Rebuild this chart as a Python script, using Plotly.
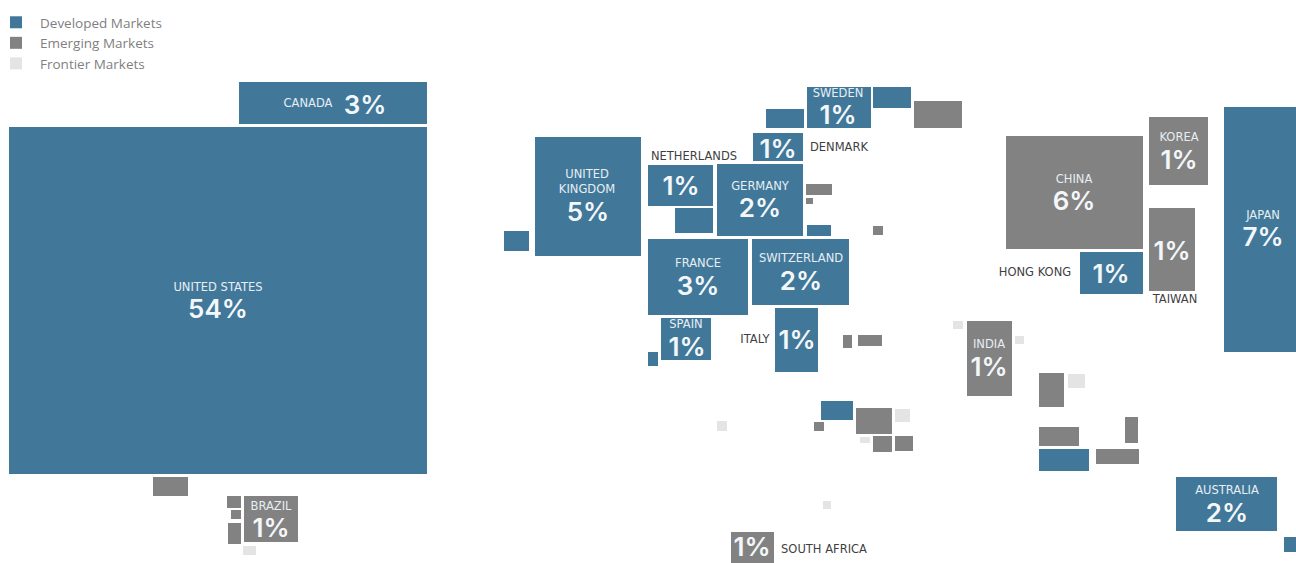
import plotly.graph_objects as go

# Market tiles, in cartogram units (one unit per pixel, y running downward)
developed_left = [9, 239, 535, 504, 648, 675, 717, 753, 766, 807, 873, 807, 648, 752, 661, 648, 775, 821, 1080, 1224, 1039, 1176, 1284]
developed_right = [427, 427, 641, 529, 713, 713, 803, 803, 804, 871, 911, 831, 748, 849, 711, 658, 818, 853, 1143, 1296, 1089, 1277, 1296]
developed_top = [127, 82, 137, 231, 165, 208, 164, 133, 109, 87, 87, 225, 239, 239, 318, 352, 308, 401, 252, 107, 449, 477, 537]
developed_bottom = [474, 124, 256, 251, 206, 233, 236, 161, 128, 128, 108, 236, 315, 305, 360, 366, 372, 420, 294, 352, 471, 531, 552]

emerging_left = [244, 153, 227, 231, 228, 914, 806, 806, 873, 843, 858, 856, 814, 873, 895, 731, 1006, 1149, 1149, 967, 1039, 1039, 1096, 1125]
emerging_right = [298, 188, 241, 241, 241, 962, 832, 813, 883, 852, 882, 892, 824, 892, 913, 774, 1143, 1208, 1195, 1012, 1064, 1079, 1139, 1138]
emerging_top = [496, 477, 496, 510, 523, 101, 184, 198, 226, 335, 335, 408, 422, 436, 436, 532, 136, 117, 208, 321, 373, 427, 449, 417]
emerging_bottom = [542, 496, 508, 519, 544, 128, 195, 204, 235, 348, 346, 434, 431, 452, 451, 563, 249, 185, 291, 396, 407, 446, 464, 443]

frontier_left = [243, 895, 717, 860, 823, 953, 1015, 1068]
frontier_right = [256, 910, 727, 870, 831, 963, 1024, 1085]
frontier_top = [546, 409, 421, 437, 501, 321, 336, 374]
frontier_bottom = [555, 422, 431, 443, 509, 329, 344, 388]

# Country names set inside a tile, then those set beside one
inner_names = ["UNITED STATES", "CANADA", "BRAZIL", "UNITED<br>KINGDOM", "GERMANY", "SWEDEN", "FRANCE", "SWITZERLAND",
               "SPAIN", "CHINA", "KOREA", "JAPAN", "INDIA", "AUSTRALIA"]
inner_name_x = [218, 308, 271, 587, 760, 838, 698, 801, 686, 1074, 1179, 1263, 989, 1227]
inner_name_y = [288, 104, 507, 183, 187, 94, 264, 259, 325, 180, 138, 216, 345, 491]

outer_names = ["NETHERLANDS", "DENMARK", "ITALY", "TAIWAN", "HONG KONG", "SOUTH AFRICA"]
outer_name_x = [694, 839, 755, 1175, 1035, 824]
outer_name_y = [157, 148, 340, 300, 273, 550]

share_labels = ["54%", "3%", "1%", "5%", "1%", "2%", "1%", "1%", "3%", "2%", "1%", "1%", "6%", "1%", "7%", "1%", "1%", "1%", "2%", "1%"]
share_x = [218, 365, 271, 588, 681, 760, 778, 838, 698, 801, 687, 797, 1074, 1179, 1263, 1172, 1111, 989, 1227, 752]
share_y = [311, 107, 530, 214, 188, 210, 151, 117, 288, 283, 349, 342, 203, 162, 239, 253, 276, 369, 515, 549]

BLUE = "#41789a"
GREY = "#828282"
PALE = "#e4e4e4"


def tier(name, left, right, top, bottom, color):
    """One market tier, drawn as free-floating bars."""
    return go.Bar(
        name=name,
        x=[(a + b) / 2 for a, b in zip(left, right)],
        width=[b - a for a, b in zip(left, right)],
        base=top,
        y=[b - t for t, b in zip(top, bottom)],
        marker=dict(color=color, line=dict(width=0)),
        hoverinfo="skip",
    )


def labels(text, x, y, family, size, color, weight):
    return go.Scatter(
        x=x, y=y, text=text, mode="text", textposition="middle center",
        textfont=dict(family=family, size=size, color=color, weight=weight),
        showlegend=False, hoverinfo="skip",
    )


fig = go.Figure([
    tier("Developed Markets", developed_left, developed_right, developed_top, developed_bottom, BLUE),
    tier("Emerging Markets", emerging_left, emerging_right, emerging_top, emerging_bottom, GREY),
    tier("Frontier Markets", frontier_left, frontier_right, frontier_top, frontier_bottom, PALE),
    labels(inner_names, inner_name_x, inner_name_y, "DejaVu Sans", 11.5, "#e6eef3", 400),
    labels(outer_names, outer_name_x, outer_name_y, "DejaVu Sans", 11.5, "#3f3f3f", 400),
    labels(share_labels, share_x, share_y, "Inter", 26, "#f4f7f9", 600),
])

fig.update_layout(
    width=1296, height=563,
    margin=dict(l=0, r=0, t=0, b=0, autoexpand=False),
    barmode="overlay",
    paper_bgcolor="white", plot_bgcolor="white",
    xaxis=dict(range=[0, 1296], visible=False, fixedrange=True),
    yaxis=dict(range=[563, 0], visible=False, fixedrange=True),
    legend=dict(
        x=-8 / 1296, y=1 - 7 / 563, xanchor="left", yanchor="top",
        bgcolor="rgba(0,0,0,0)", borderwidth=0,
        font=dict(family="Open Sans", size=13.5, color="#7f7f7f"),
        itemwidth=38, tracegroupgap=0,
        traceorder="normal",
    ),
)

fig.write_html("out.html", config={"displayModeBar": False})
